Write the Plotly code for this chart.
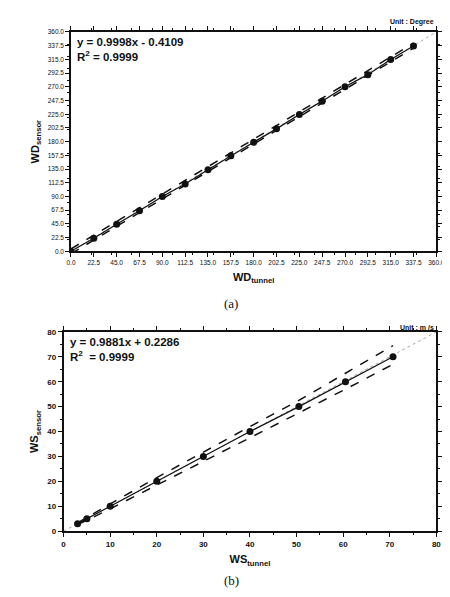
import plotly.graph_objects as go

# (a) wind direction
wd_tunnel = [0, 22.5, 45, 67.5, 90, 112.5, 135, 157.5, 180, 202.5, 225, 247.5, 270, 292.5, 315, 337.5]
wd_sensor = [0, 21.5, 44.5, 66.5, 90, 110.5, 134, 157, 179, 201, 224.5, 246.5, 270, 290, 315, 337]
wd_upper = [4, 26.5, 49, 71.5, 94, 116.5, 139, 161.5, 184, 206.5, 229, 251.5, 274, 296.5, 319, 341.5]
wd_lower = [-4, 18.5, 41, 63.5, 86, 108.5, 131, 153.5, 176, 198.5, 221, 243.5, 266, 288.5, 311, 333.5]
wd_ticks = [0, 22.5, 45, 67.5, 90, 112.5, 135, 157.5, 180, 202.5, 225, 247.5, 270, 292.5, 315, 337.5, 360]

# (b) wind speed
ws_tunnel = [3, 5, 10, 20, 30, 40, 50.5, 60.5, 70.7]
ws_sensor = [3, 5, 10, 20, 30, 40, 50, 60, 70]
ws_upper = [3.3, 5.6, 11, 21.5, 31.8, 42, 52.5, 63.3, 74.5]
ws_lower = [2.7, 4.4, 9, 18.5, 28, 37.8, 47.5, 57, 67]
ws_ticks = [0, 10, 20, 30, 40, 50, 60, 70, 80]

fig = go.Figure()
dark = "#111"

def panel(xs, ys, up, lo, ax, lim):
    xa, ya = ("x", "y") if ax == 1 else ("x2", "y2")
    fig.add_trace(go.Scatter(x=[0, lim], y=[0, lim], mode="lines", xaxis=xa, yaxis=ya,
                             line=dict(color="#aaa", width=1, dash="dot"), showlegend=False))
    fig.add_trace(go.Scatter(x=xs, y=up, mode="lines", xaxis=xa, yaxis=ya,
                             line=dict(color=dark, width=1.5, dash="dash"), showlegend=False))
    fig.add_trace(go.Scatter(x=xs, y=lo, mode="lines", xaxis=xa, yaxis=ya,
                             line=dict(color=dark, width=1.5, dash="dash"), showlegend=False))
    fig.add_trace(go.Scatter(x=xs, y=ys, mode="lines+markers", xaxis=xa, yaxis=ya,
                             line=dict(color=dark, width=1.2), marker=dict(size=7, color=dark),
                             showlegend=False))

panel(wd_tunnel, wd_sensor, wd_upper, wd_lower, 1, 360)
panel(ws_tunnel, ws_sensor, ws_upper, ws_lower, 2, 80)

axis = dict(showgrid=False, zeroline=False, showline=True, linecolor=dark, linewidth=1.5,
            mirror="allticks", ticks="outside", ticklen=4, tickcolor=dark,
            minor=dict(ticks="outside", ticklen=2, tickcolor=dark))
font = dict(family="Arial, Liberation Sans", color=dark)

wd_text = [f"{v:.1f}" for v in wd_ticks]
ws_text = [f"<b>{v}</b>" for v in ws_ticks]

fig.update_layout(
    width=450, height=597, margin=dict(l=0, r=0, t=0, b=0),
    plot_bgcolor="white", paper_bgcolor="white", font=font,
    xaxis=dict(axis, domain=[0.133, 0.971], range=[0, 360], tickvals=wd_ticks,
               ticktext=wd_text, tickfont=dict(size=6.5), tickangle=0,
               anchor="y", title=dict(text="<b>WD<sub>tunnel</sub></b>", font=dict(size=11), standoff=8)),
    yaxis=dict(axis, domain=[0.593, 0.966], range=[0, 360], tickvals=wd_ticks,
               ticktext=wd_text, tickfont=dict(size=6.5),
               anchor="x", title=dict(text="<b>WD<sub>sensor</sub></b>", font=dict(size=11), standoff=6)),
    xaxis2=dict(axis, domain=[0.116, 0.971], range=[0, 80], tickvals=ws_ticks, ticktext=ws_text,
                tickfont=dict(size=8), anchor="y2",
                title=dict(text="<b>WS<sub>tunnel</sub></b>", font=dict(size=11), standoff=8)),
    yaxis2=dict(axis, domain=[0.117, 0.456], range=[0, 80], tickvals=ws_ticks, ticktext=ws_text,
                tickfont=dict(size=8), anchor="x2",
                title=dict(text="<b>WS<sub>sensor</sub></b>", font=dict(size=11), standoff=6)),
    annotations=[
        dict(text="<b>y = 0.9998x - 0.4109<br>R<sup>2</sup> = 0.9999</b>", x=0.142, y=0.963,
             xref="paper", yref="paper", xanchor="left", yanchor="top", showarrow=False,
             align="left", font=dict(size=11.5)),
        dict(text="<b>Unit : Degree</b>", x=0.97, y=0.972, xref="paper", yref="paper",
             xanchor="right", yanchor="bottom", showarrow=False, font=dict(size=7)),
        dict(text="(a)", x=0.5, y=0.505, xref="paper", yref="paper", showarrow=False,
             font=dict(size=13, family="Liberation Serif")),
        dict(text="<b>y = 0.9881x + 0.2286<br>R<sup>2</sup>  = 0.9999</b>", x=0.125, y=0.453,
             xref="paper", yref="paper", xanchor="left", yanchor="top", showarrow=False,
             align="left", font=dict(size=11.5)),
        dict(text="<b>Unit : m /s</b>", x=0.97, y=0.454, xref="paper", yref="paper",
             xanchor="right", yanchor="bottom", showarrow=False, font=dict(size=7)),
        dict(text="(b)", x=0.5, y=0.017, xref="paper", yref="paper", showarrow=False,
             font=dict(size=13, family="Liberation Serif")),
    ],
)

fig.write_html("out.html")
